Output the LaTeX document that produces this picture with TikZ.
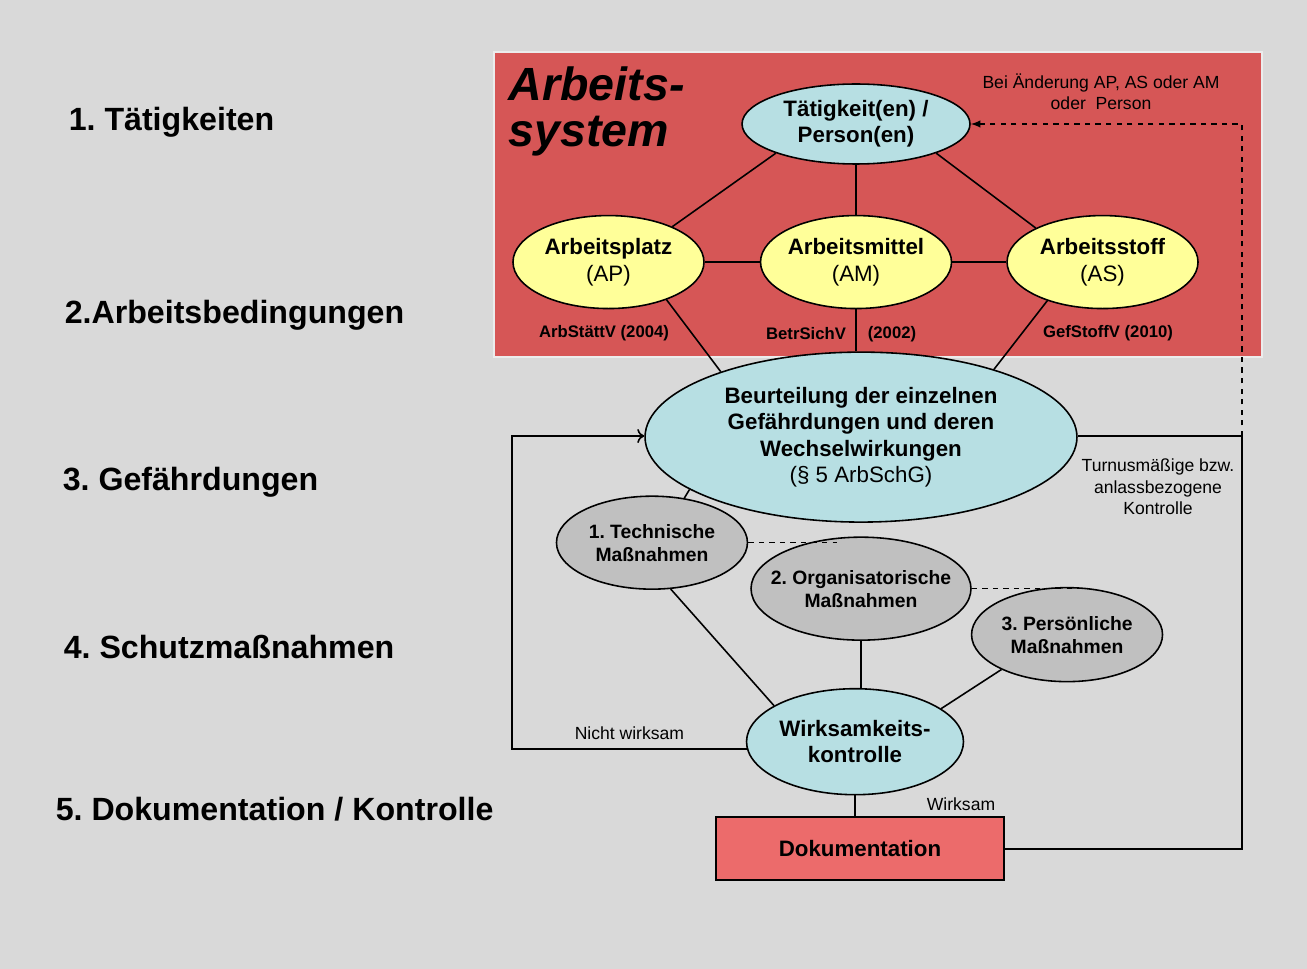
\documentclass[tikz,border=0pt]{standalone}
\usepackage{fontspec}
\setmainfont{Liberation Sans}
\usepackage{xcolor}
\usepackage{tikz}
\usetikzlibrary{shapes.geometric,positioning,arrows.meta}
\frenchspacing
\definecolor{bggrey}{HTML}{D9D9D9}
\definecolor{sysred}{HTML}{D65656}
\definecolor{lightblue}{HTML}{B7DFE3}
\definecolor{paleyellow}{HTML}{FFFF99}
\definecolor{measgrey}{HTML}{C0C0C0}
\definecolor{dokred}{HTML}{EC6B6B}
\tikzstyle{oval}=   [draw,
ellipse,
inner sep=-0.4cm,
align=center,
font=\fontsize{12.7}{15}\selectfont,
]
\tikzstyle{blueoval}=[oval,
fill=lightblue,
]
\tikzstyle{yellowoval}=[oval,
fill=paleyellow,
minimum width=3.82cm,
minimum height=1.86cm,
]
\tikzstyle{greyoval}=[oval,
fill=measgrey,
font=\bfseries\fontsize{11}{13.1}\selectfont,
]
\tikzstyle{docbox}= [draw,
rectangle,
fill=dokred,
minimum width=5.76cm,
minimum height=1.26cm,
font=\bfseries\fontsize{12.7}{15}\selectfont,
]
\tikzstyle{phaselabel}=[anchor=base west,
inner sep=0,
font=\bfseries\fontsize{18.3}{22}\selectfont,
]
\tikzstyle{lawtext}=[inner sep=0,
font=\bfseries\fontsize{9.5}{11}\selectfont,
]
\tikzstyle{notetext}=[inner sep=0,
align=center,
font=\fontsize{10}{12.2}\selectfont,
]

\begin{document}
\begin{tikzpicture}[x=0.02cm, y=-0.02cm, line width=0.9pt]
        \fill[bggrey] (0,0) rectangle (1307,969);
        \fill[sysred, draw=white!85!gray, line width=0.6pt] (494,52) rectangle (1262,357);
        \node[anchor=north west, inner sep=0, align=left, font=\bfseries\itshape\fontsize{26.5}{26}\selectfont] (title) at (508,66) {Arbeits-\\system};

        \node[phaselabel] (p1) at (68,131) {1. Tätigkeiten};
        \node[phaselabel] (p2) at (64,323) {2.Arbeitsbedingungen};
        \node[phaselabel] (p3) at (62,490) {3. Gefährdungen};
        \node[phaselabel] (p4) at (63,658) {4. Schutzmaßnahmen};
        \node[phaselabel] (p5) at (55,820) {5. Dokumentation / Kontrolle};

        \node[blueoval, minimum width=4.56cm, minimum height=1.6cm] (taet) at (856,124) {\textbf{Tätigkeit(en) /}\\\textbf{Person(en)}};
        \node[yellowoval, below=1.0cm of taet] (am) {\textbf{Arbeitsmittel}\\(AM)};
        \node[yellowoval, left=1.1cm of am] (ap) {\textbf{Arbeitsplatz}\\(AP)};
        \node[yellowoval, right=1.08cm of am] (as) {\textbf{Arbeitsstoff}\\(AS)};
        \node[blueoval, minimum width=8.64cm, minimum height=3.4cm, below=0.84cm of am, xshift=0.1cm] (beurt) {\textbf{Beurteilung der einzelnen}\\\textbf{Gefährdungen und deren}\\\textbf{Wechselwirkungen}\\(§ 5 ArbSchG)};
        \node[greyoval, minimum width=4.4cm, minimum height=2.06cm, below=0.27cm of beurt] (org) {2. Organisatorische\\Maßnahmen};
        \node[greyoval, minimum width=3.82cm, minimum height=1.86cm, left=0.04cm of org, yshift=0.92cm] (tech) {1. Technische\\Maßnahmen};
        \node[greyoval, minimum width=3.82cm, minimum height=1.88cm, right=-0.02cm of org, yshift=-0.92cm] (pers) {3. Persönliche\\Maßnahmen};
        \node[blueoval, minimum width=4.34cm, minimum height=2.12cm, below=0.94cm of org, xshift=-0.12cm] (wirk) {\textbf{Wirksamkeits-}\\\textbf{kontrolle}};
        \node[docbox, below=0.42cm of wirk, xshift=0.1cm] (doku) {Dokumentation};

        \node[lawtext] (arbst) at (604,333) {ArbStättV (2004)};
        \node[lawtext] (betr) at (806,334) {BetrSichV};
        \node[lawtext] (betrjahr) at (892,334) {(2002)};
        \node[lawtext] (gef) at (1108,333) {GefStoffV (2010)};
        \node[notetext] (aenderung) at (1101,92) {Bei Änderung AP, AS oder AM\\oder~ Person};
        \node[notetext] (turnus) at (1158,487) {Turnusmäßige bzw.\\anlassbezogene\\Kontrolle};
        \node[notetext] (wirksam) at (961,804) {Wirksam};

        \coordinate (kontr) at (1242,436);
        \coordinate (zurueck) at (512,436);

        \draw (taet.200) -- (ap.29);
        \draw (taet) -- (am);
        \draw (taet.340) -- (as.153);
        \draw (ap) -- (am) (am) -- (as);
        \draw (ap.327) -- (beurt.155);
        \draw (am) -- (am.south |- beurt.north);
        \draw (as.215) -- (beurt.27);
        \draw (beurt.197) -- (tech.54);
        \draw[dashed] (tech.east) -- (tech.east -| org.115);
        \draw[dashed] (org.east) -- (org.east -| pers.68);
        \draw (tech.292) -- (wirk.156);
        \draw (org) -- (org.south |- wirk.north);
        \draw (pers.208) -- (wirk.21);
        \draw (wirk) -- (wirk.south |- doku.north);
        \draw[-{To[length=4pt,width=8pt]}] (wirk.184) -| node[pos=0.25, above=5pt, notetext]{Nicht wirksam} (zurueck) -- (zurueck -| beurt.west);
        \draw (doku.east) -| (kontr) -- (kontr -| beurt.east);
        \draw[dashed, -latex] (kontr) |- (taet.east);
    \end{tikzpicture}
\end{document}
